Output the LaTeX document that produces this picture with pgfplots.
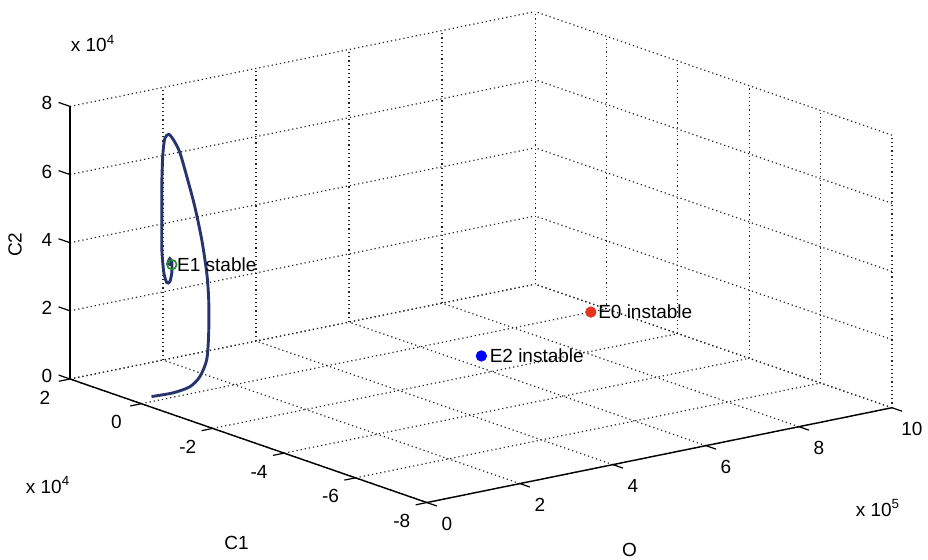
\documentclass[border=0pt]{standalone}
\usepackage{fontspec}
\setmainfont{Liberation Sans}
\usepackage{pgfplots}
\pgfplotsset{compat=1.18}
\definecolor{traj}{RGB}{40,52,110}
\definecolor{eored}{RGB}{228,52,30}
\definecolor{eblue}{RGB}{0,0,255}
\definecolor{egreen}{RGB}{30,140,40}
\begin{document}
\fontsize{9.5}{11}\selectfont
\begin{tikzpicture}
\begin{axis}[
  view={-37.5}{15.4},
  plot box ratio={1}{1}{0.482},
  scale only axis,
  width=411pt, height=245.5pt,
  enlargelimits=false,
  xmin=0, xmax=1000000,
  ymin=-80000, ymax=20000,
  zmin=0, zmax=80000,
  xtick={0,200000,400000,600000,800000,1000000},
  xticklabels={0,2,4,6,8,10},
  ytick={-80000,-60000,-40000,-20000,0,20000},
  yticklabels={-8,-6,-4,-2,0,2},
  ztick={0,20000,40000,60000,80000},
  zticklabels={0,2,4,6,8},
  scaled ticks=false,
  grid=major,
  grid style={black!85, dash pattern=on 0.6pt off 1.5pt, line width=0.6pt},
  axis line style={draw=none},
  major tick length=0pt,
  tick style={draw=none},
  xticklabel style={anchor=center, xshift=10pt, yshift=-10.5pt},
  yticklabel style={anchor=center, xshift=-12.5pt, yshift=-9.25pt},
  zticklabel style={anchor=center, xshift=-11.5pt, yshift=1.5pt},
  ticklabel style={font=\fontsize{9.5}{11}\selectfont},
  clip=false,
]
\draw[black, line width=0.7pt] (rel axis cs:0,1,0) -- (rel axis cs:0,1,1);
\draw[black, line width=0.7pt] (rel axis cs:0,1,0) -- (rel axis cs:0,0,0);
\draw[black, line width=0.7pt] (rel axis cs:0,0,0) -- (rel axis cs:1,0,0);
\pgfplotsinvokeforeach{0,200000,400000,600000,800000,1000000}{
  \draw[black, line width=0.6pt] (axis cs:#1,-80000,0) -- (axis cs:#1,-82800,0);
}
\pgfplotsinvokeforeach{-80000,-60000,-40000,-20000,0,20000}{
  \draw[black, line width=0.6pt] (axis cs:0,#1,0) -- (axis cs:-24000,#1,0);
}
\pgfplotsinvokeforeach{0,20000,40000,60000,80000}{
  \draw[black, line width=0.6pt] (axis cs:0,20000,#1) -- (axis cs:0,23200,#1);
}

\addplot3[traj, line width=1.45pt, smooth, tension=0.45] coordinates {
(30000,1070,870)
(60000,-990,1860)
(60000,-5740,5360)
(60000,-8540,9320)
(60000,-10490,15030)
(60000,-11050,23180)
(60000,-11050,32880)
(60000,-10490,40620)
(60000,-9090,49810)
(60000,-7140,58810)
(60000,-4900,66820)
(60000,-2950,73170)
(60000,-1270,76080)
(60000,120,77340)
(60000,1240,75750)
(60000,1800,70840)
(60000,2080,62510)
(60000,2080,52510)
(60000,2080,42800)
(60000,1520,36240)
(60000,680,33610)
(60000,-160,34210)
(60000,-710,37050)
(60000,-710,39990)
(60000,-160,40970)
(60000,400,39290)
(60000,-710,39410)
};
\addplot3[only marks, mark=*, mark size=2.6pt, draw=eored, fill=eored] coordinates {(966400,0,0)};
\addplot3[only marks, mark=*, mark size=2.6pt, draw=eblue, fill=eblue] coordinates {(646700,-10990,0)};
\addplot3[only marks, mark=o, mark size=2.4pt, draw=egreen, line width=0.8pt] coordinates {(60000,-710,39410)};

\coordinate (A) at (rel axis cs:0,1,0);
\coordinate (Atop) at (rel axis cs:0,1,1);
\coordinate (Zmid) at (rel axis cs:0,1,0.5);
\coordinate (Ymid) at (rel axis cs:0,0.5,0);
\coordinate (Xmid) at (rel axis cs:0.5,0,0);
\coordinate (R) at (rel axis cs:1,0,0);
\coordinate (E0) at (axis cs:966400,0,0);
\coordinate (E2) at (axis cs:646700,-10990,0);
\coordinate (E1) at (axis cs:60000,-710,39410);
\end{axis}
\node[anchor=west, inner sep=0pt, xshift=3.5pt] at (E0) {E0 instable};
\node[anchor=west, inner sep=0pt, xshift=4pt] at (E2) {E2 instable};
\node[anchor=west, inner sep=0pt, xshift=2.5pt] at (E1) {E1 stable};
\node[inner sep=0pt] at ([xshift=11.5pt,yshift=31.5pt]Atop) {x 10\textsuperscript{4}};
\node[inner sep=0pt, rotate=90] at ([xshift=-27.5pt,yshift=-1pt]Zmid) {C2};
\node[inner sep=0pt] at ([xshift=-11pt,yshift=-53pt]A) {x 10\textsuperscript{4}};
\node[inner sep=0pt] at ([xshift=-6pt,yshift=-51pt]Ymid) {C1};
\node[inner sep=0pt] at ([xshift=-15pt,yshift=-47.25pt]Xmid) {O};
\node[inner sep=0pt] at ([xshift=-7pt,yshift=-50pt]R) {x 10\textsuperscript{5}};
\pgfresetboundingbox
\path ([xshift=-35pt,yshift=189.5pt]A) rectangle ([xshift=429pt,yshift=-90.5pt]A);
\end{tikzpicture}
\end{document}
